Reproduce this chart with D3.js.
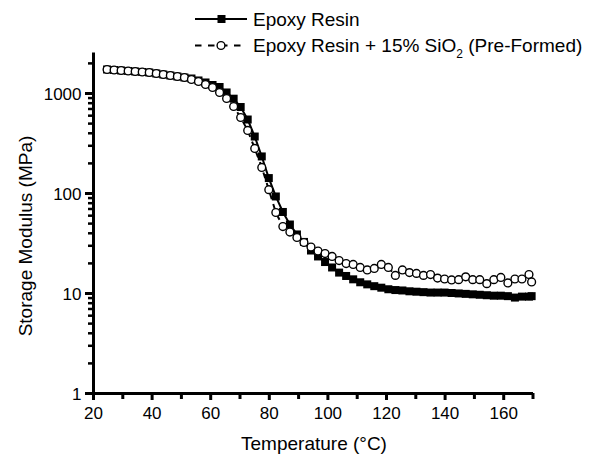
<!DOCTYPE html>
<html>
<head>
<meta charset="utf-8">
<script src="https://cdn.jsdelivr.net/npm/d3@7"></script>
<style>
  body { margin: 0; background: #fff; }
  svg { font-family: "Liberation Sans", Arial, sans-serif; }
</style>
</head>
<body>
<svg width="592" height="455"></svg>
<script>
// temperature (°C) of each measurement
var temps = [24.8, 27.2, 29.6, 32.0, 34.4, 36.8, 39.2, 41.6, 44.0, 46.4,
    48.8, 51.2, 53.6, 56.0, 58.4, 60.8, 63.2, 65.6, 68.0, 70.4,
    72.8, 75.2, 77.6, 80.0, 82.4, 84.8, 87.2, 89.6, 92.0, 94.4,
    96.8, 99.2, 101.6, 104.0, 106.4, 108.8, 111.2, 113.6, 116.0, 118.4,
    120.8, 123.2, 125.6, 128.0, 130.4, 132.8, 135.2, 137.6, 140.0, 142.4,
    144.8, 147.2, 149.6, 152.0, 154.4, 156.8, 159.2, 161.6, 164.0, 166.4,
    168.8, 169.7];

// storage modulus (MPa), neat epoxy
var epoxy = [1718, 1698, 1679, 1660, 1641, 1622, 1603, 1567, 1531, 1496,
    1462, 1429, 1396, 1334, 1274, 1202, 1148, 1012, 877, 724,
    543, 367, 232, 141, 92.3, 64.6, 48.4, 38.5, 32.4, 26.6,
    23.2, 20.4, 18.0, 16.0, 14.8, 13.7, 12.8, 12.2, 11.7, 11.3,
    10.9, 10.7, 10.6, 10.4, 10.3, 10.2, 10.1, 10.1, 10.1, 10.0,
    9.9, 9.8, 9.7, 9.6, 9.5, 9.4, 9.4, 9.3, 9.0, 9.2,
    9.2, 9.3];

// storage modulus (MPa), epoxy + 15% SiO2
var epoxySiO2 = [1718, 1698, 1679, 1660, 1641, 1622, 1603, 1567, 1531, 1496,
    1462, 1429, 1365, 1303, 1216, 1135, 1012, 881, 733, 569,
    422, 279, 180, 108, 63.8, 46.2, 40.7, 35.9, 32.0, 28.8,
    26.3, 24.8, 23.2, 21.1, 19.7, 19.3, 18.0, 17.0, 17.6, 19.3,
    18.0, 15.0, 17.0, 16.0, 15.7, 15.0, 15.3, 14.1, 13.8, 13.5,
    13.6, 14.5, 13.6, 13.6, 12.4, 13.6, 14.3, 12.6, 13.8, 13.8,
    15.3, 12.9];

var xTicks = [20, 40, 60, 80, 100, 120, 140, 160];
var xMinorTicks = [30, 50, 70, 90, 110, 130, 150, 170];
var yTicks = [1, 10, 100, 1000];
var yMinorTicks = [2, 3, 4, 5, 6, 7, 8, 9, 20, 30, 40, 50, 60, 70, 80, 90,
    200, 300, 400, 500, 600, 700, 800, 900, 2000];

var svg = d3.select("svg");

// scales
var x = d3.scaleLinear().domain([20, 170]).range([93, 532.5]);
var y = d3.scaleLog().domain([1, 2570]).range([393, 52]);

// minor ticks first, then the major axes on top
svg.append("g")
    .attr("transform", "translate(93,0)")
    .call(d3.axisLeft(y).tickValues(yMinorTicks).tickSize(5).tickFormat(""))
    .call(g => g.select(".domain").remove())
    .selectAll("line").attr("stroke-width", 2.5);

svg.append("g")
    .attr("transform", "translate(0,393)")
    .call(d3.axisBottom(x).tickValues(xMinorTicks).tickSize(6).tickFormat(""))
    .call(g => g.select(".domain").remove())
    .selectAll("line").attr("stroke-width", 3);

var yAxis = svg.append("g")
    .attr("transform", "translate(93,0)")
    .call(d3.axisLeft(y).tickValues(yTicks).tickSize(8).tickSizeOuter(0)
        .tickFormat(d3.format("d")));
yAxis.select(".domain").attr("stroke-width", 3);
yAxis.selectAll("line").attr("stroke-width", 3);
yAxis.selectAll("text").style("font-size", "17px").attr("x", -11.5).attr("dy", "0.36em");

var xAxis = svg.append("g")
    .attr("transform", "translate(0,393)")
    .call(d3.axisBottom(x).tickValues(xTicks).tickSize(7).tickSizeOuter(0));
xAxis.select(".domain").attr("stroke-width", 3);
xAxis.selectAll("line").attr("stroke-width", 3);
xAxis.selectAll("text").style("font-size", "17px").attr("y", 14).attr("dy", "0.71em");

// axis titles
svg.append("text")
    .attr("x", 314).attr("y", 450)
    .attr("text-anchor", "middle")
    .style("font-size", "19px")
    .text("Temperature (°C)");

svg.append("text")
    .attr("transform", "translate(31.5,236) rotate(-90)")
    .attr("text-anchor", "middle")
    .style("font-size", "19px")
    .text("Storage Modulus (MPa)");

// lines
var line1 = d3.line().x((d, i) => x(temps[i])).y(d => y(d));

svg.append("path")
    .datum(epoxy)
    .attr("fill", "none")
    .attr("stroke", "#000")
    .attr("stroke-width", 2)
    .attr("d", line1);

svg.append("path")
    .datum(epoxySiO2)
    .attr("fill", "none")
    .attr("stroke", "#000")
    .attr("stroke-width", 2)
    .attr("stroke-dasharray", "6,5")
    .attr("d", line1);

// markers
svg.selectAll(".sq")
    .data(epoxy)
    .join("rect")
    .attr("class", "sq")
    .attr("x", (d, i) => x(temps[i]) - 4)
    .attr("y", d => y(d) - 4)
    .attr("width", 8)
    .attr("height", 8)
    .attr("fill", "#000");

svg.selectAll(".circ")
    .data(epoxySiO2)
    .join("circle")
    .attr("class", "circ")
    .attr("cx", (d, i) => x(temps[i]))
    .attr("cy", d => y(d))
    .attr("r", 3.9)
    .attr("fill", "#fff")
    .attr("stroke", "#000")
    .attr("stroke-width", 1.4);

// legend
var legend = svg.append("g");
legend.append("line")
    .attr("x1", 195).attr("x2", 247).attr("y1", 19).attr("y2", 19)
    .attr("stroke", "#000").attr("stroke-width", 2);
legend.append("rect")
    .attr("x", 217.5).attr("y", 15).attr("width", 8).attr("height", 8)
    .attr("fill", "#000");
legend.append("text")
    .attr("x", 253).attr("y", 25.5)
    .style("font-size", "19px")
    .text("Epoxy Resin");

legend.append("line")
    .attr("x1", 195).attr("x2", 247).attr("y1", 45.5).attr("y2", 45.5)
    .attr("stroke", "#000").attr("stroke-width", 2)
    .attr("stroke-dasharray", "6.5,6.5");
legend.append("circle")
    .attr("cx", 221).attr("cy", 45.5).attr("r", 3.9)
    .attr("fill", "#fff").attr("stroke", "#000").attr("stroke-width", 1.4);
var t2 = legend.append("text")
    .attr("x", 253).attr("y", 52)
    .style("font-size", "19px");
t2.append("tspan").text("Epoxy Resin + 15% SiO");
t2.append("tspan").attr("dy", 6).style("font-size", "12px").text("2");
t2.append("tspan").attr("dy", -6).text(" (Pre-Formed)");
</script>
</body>
</html>
